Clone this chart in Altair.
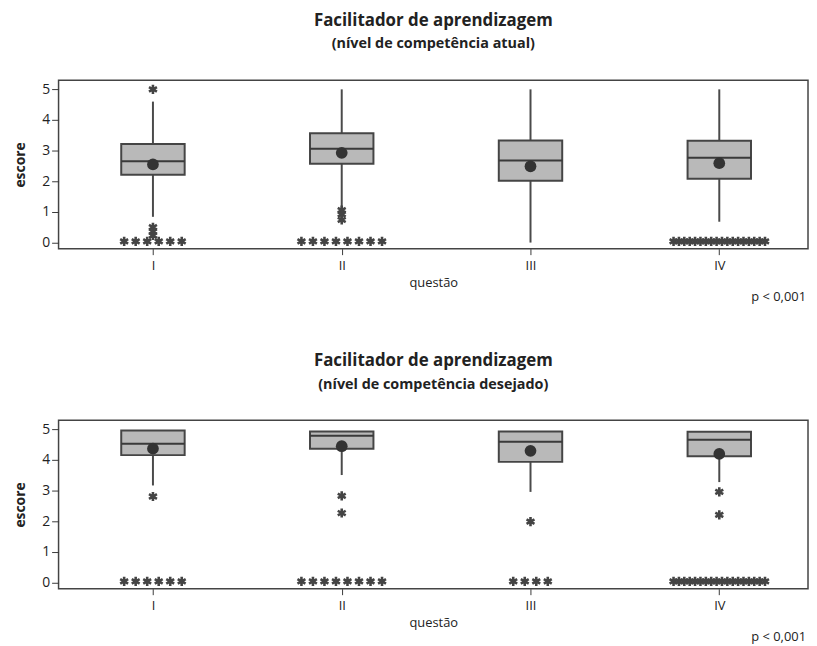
import altair as alt
import pandas as pd

# ---------------- data ----------------
questoes = ["I", "II", "III", "IV"]

# panel 1: nível de competência atual
atual_whisker_low = [0.84, 1.11, 0.0, 0.68]
atual_q1 = [2.21, 2.57, 2.02, 2.08]
atual_median = [2.65, 3.06, 2.68, 2.77]
atual_q3 = [3.22, 3.57, 3.33, 3.32]
atual_whisker_high = [4.60, 5.0, 5.0, 5.0]
atual_mean = [2.55, 2.93, 2.49, 2.59]
atual_outlier_q = ["I", "I", "I", "I", "II", "II", "II"]
atual_outlier_val = [5.0, 0.50, 0.36, 0.23, 1.06, 0.92, 0.74]
atual_zero_count = [6, 8, 0, 18]

# panel 2: nível de competência desejado
desejado_whisker_low = [3.17, 3.51, 2.96, 3.28]
desejado_q1 = [4.16, 4.37, 3.94, 4.12]
desejado_median = [4.53, 4.79, 4.60, 4.66]
desejado_q3 = [4.96, 4.93, 4.93, 4.92]
desejado_whisker_high = [4.96, 4.93, 4.93, 4.92]
desejado_mean = [4.37, 4.45, 4.30, 4.20]
desejado_outlier_q = ["I", "II", "II", "III", "IV", "IV"]
desejado_outlier_val = [2.81, 2.83, 2.27, 1.99, 2.96, 2.21]
desejado_zero_count = [6, 8, 4, 18]

titulo = "Facilitador de aprendizagem"
subtitulos = ["(nível de competência atual)", "(nível de competência desejado)"]
p_texto = "p < 0,001"

# ---------------- style ----------------
FONT = "Open Sans"
W, H = 756, 170
HALF = 0.168          # half box width in x units
ZERO_Y = 0.04
STAR = "M0,-1L0,1M-0.87,-0.5L0.87,0.5M-0.87,0.5L0.87,-0.5"
DARK = "#3a3a3a"

label_expr = "datum.value == 1 ? 'I' : datum.value == 2 ? 'II' : datum.value == 3 ? 'III' : 'IV'"

xscale = alt.Scale(domain=[0.5, 4.47], nice=False, zero=False)
yscale = alt.Scale(domain=[-0.2, 5.3], nice=False, zero=False)
xaxis = alt.Axis(values=[1, 2, 3, 4], labelExpr=label_expr, title="questão", grid=False,
                 domain=False, tickSize=6, tickColor=DARK, labelPadding=5,
                 labelFontSize=13, titleFontSize=13, titleFontWeight="normal",
                 titlePadding=4, labelColor="#222", titleColor="#222",
                 labelFont=FONT, titleFont=FONT)
yaxis = alt.Axis(values=[0, 1, 2, 3, 4, 5], tickCount=6, labelOverlap=False,
                 title="escore", grid=False, domain=False,
                 tickSize=7, tickColor=DARK, labelPadding=2, labelFontSize=14,
                 titleFontSize=14, titleFontWeight="bold", titlePadding=14,
                 labelColor="#222", titleColor="#222", labelFont=FONT, titleFont=FONT)


def panel(lo, q1, med, q3, hi, mean, out_q, out_v, zero_n, sub):
    idx = [i + 1 for i in range(len(questoes))]
    box = pd.DataFrame({"q": questoes, "idx": idx, "lo": lo, "q1": q1, "med": med,
                        "q3": q3, "hi": hi, "mean": mean})
    box["xl"] = box["idx"] - HALF
    box["xr"] = box["idx"] + HALF

    pts = []
    for q, v in zip(out_q, out_v):
        pts.append({"x": questoes.index(q) + 1, "v": v})
    for i, n in enumerate(zero_n):
        step = 0.061 if n <= 10 else 0.0285
        for k in range(n):
            pts.append({"x": i + 1 + (k - (n - 1) / 2) * step, "v": ZERO_Y})
    stars = pd.DataFrame(pts)

    X = lambda f: alt.X(f, scale=xscale, axis=xaxis)
    Y = lambda f: alt.Y(f, scale=yscale, axis=yaxis)

    base = alt.Chart(box)
    whisk_low = base.mark_rule(color="#4a4a4a", strokeWidth=2).encode(
        x=X("idx:Q"), y=Y("lo:Q"), y2="q1:Q")
    whisk_high = base.mark_rule(color="#4a4a4a", strokeWidth=2).encode(
        x=X("idx:Q"), y=Y("q3:Q"), y2="hi:Q")
    rect = base.mark_rect(fill="#b9b9b9", stroke="#454545", strokeWidth=2).encode(
        x=X("xl:Q"), x2="xr:Q", y=Y("q1:Q"), y2="q3:Q")
    median = base.mark_rule(color="#3a3a3a", strokeWidth=2).encode(
        x=X("xl:Q"), x2="xr:Q", y=Y("med:Q"))
    mean_pt = base.mark_circle(color="#333333", opacity=1, size=140).encode(
        x=X("idx:Q"), y=Y("mean:Q"))
    star_pts = alt.Chart(stars).mark_point(shape=STAR, filled=False, size=85,
                                           strokeWidth=2.6, color="#444444",
                                           opacity=1).encode(
        x=X("x:Q"), y=Y("v:Q"))
    ptext = alt.Chart(pd.DataFrame({"t": [p_texto]})).mark_text(
        align="right", baseline="middle", fontSize=13, font=FONT, color="#222").encode(
        text="t:N", x=alt.value(W - 2), y=alt.value(H + 49))

    return alt.layer(whisk_low, whisk_high, rect, median, mean_pt, star_pts, ptext).properties(
        width=W, height=H,
        title=alt.TitleParams(text=titulo, subtitle=sub, fontSize=17, fontWeight="bold",
                              subtitleFontSize=14.5, subtitleFontWeight="bold",
                              subtitlePadding=8, offset=28, anchor="middle",
                              font=FONT, subtitleFont=FONT, color="#222",
                              subtitleColor="#222"))


top = panel(atual_whisker_low, atual_q1, atual_median, atual_q3, atual_whisker_high,
            atual_mean, atual_outlier_q, atual_outlier_val, atual_zero_count, subtitulos[0])
bottom = panel(desejado_whisker_low, desejado_q1, desejado_median, desejado_q3,
               desejado_whisker_high, desejado_mean, desejado_outlier_q,
               desejado_outlier_val, desejado_zero_count, subtitulos[1])

chart = alt.vconcat(top, bottom, spacing=46).properties(
    padding={"left": 5, "top": 0, "right": 0, "bottom": 0}
).configure_view(stroke="#444444", strokeWidth=1.5)

chart.save("out.html", embed_options={"renderer": "svg", "actions": False})
